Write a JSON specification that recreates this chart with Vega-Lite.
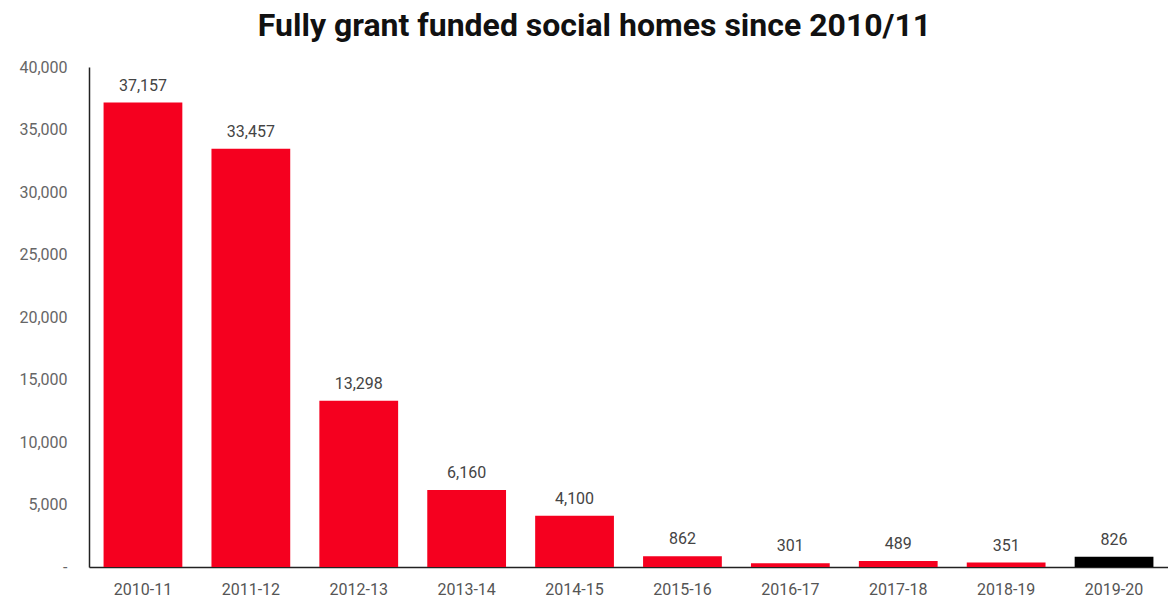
{
  "$schema": "https://vega.github.io/schema/vega-lite/v6.json",
  "width": 1079,
  "height": 500,
  "autosize": {"type": "none"},
  "padding": {"left": 89, "top": 67, "right": 0, "bottom": 34},
  "background": "white",
  "title": {
    "text": "Fully grant funded social homes since 2010/11",
    "font": "Roboto",
    "fontSize": 32,
    "fontWeight": "bold",
    "color": "#111111",
    "anchor": "middle",
    "dx": -34,
    "offset": 16
  },
  "config": {"view": {"stroke": null}},
  "data": {
    "values": [
      {"year": "2010-11", "homes": 37157, "highlight": "past"},
      {"year": "2011-12", "homes": 33457, "highlight": "past"},
      {"year": "2012-13", "homes": 13298, "highlight": "past"},
      {"year": "2013-14", "homes": 6160, "highlight": "past"},
      {"year": "2014-15", "homes": 4100, "highlight": "past"},
      {"year": "2015-16", "homes": 862, "highlight": "past"},
      {"year": "2016-17", "homes": 301, "highlight": "past"},
      {"year": "2017-18", "homes": 489, "highlight": "past"},
      {"year": "2018-19", "homes": 351, "highlight": "past"},
      {"year": "2019-20", "homes": 826, "highlight": "latest"}
    ]
  },
  "encoding": {
    "x": {
      "field": "year",
      "type": "ordinal",
      "sort": null,
      "scale": {"paddingInner": 0.27, "paddingOuter": 0.135},
      "axis": {
        "title": null,
        "labelAngle": 0,
        "labelFont": "Roboto",
        "labelFontSize": 16,
        "labelColor": "#555555",
        "labelPadding": 14,
        "ticks": false,
        "domainColor": "#222222",
        "domainWidth": 1.5
      }
    },
    "y": {
      "field": "homes",
      "type": "quantitative",
      "scale": {"domain": [0, 40000], "nice": false},
      "axis": {
        "title": null,
        "values": [0, 5000, 10000, 15000, 20000, 25000, 30000, 35000, 40000],
        "labelExpr": "datum.value == 0 ? '-' : format(datum.value, ',')",
        "labelFont": "Roboto",
        "labelFontSize": 16,
        "labelColor": "#666666",
        "labelPadding": 22,
        "ticks": false,
        "grid": false,
        "domainColor": "#222222",
        "domainWidth": 1.5
      }
    }
  },
  "layer": [
    {
      "mark": {"type": "bar"},
      "encoding": {
        "color": {
          "field": "highlight",
          "type": "nominal",
          "scale": {"domain": ["past", "latest"], "range": ["#F5001F", "#000000"]},
          "legend": null
        }
      }
    },
    {
      "mark": {"type": "text", "baseline": "bottom", "dy": -9, "font": "Roboto", "fontSize": 16, "color": "#444444"},
      "encoding": {
        "text": {"field": "homes", "type": "quantitative", "format": ","}
      }
    }
  ]
}
